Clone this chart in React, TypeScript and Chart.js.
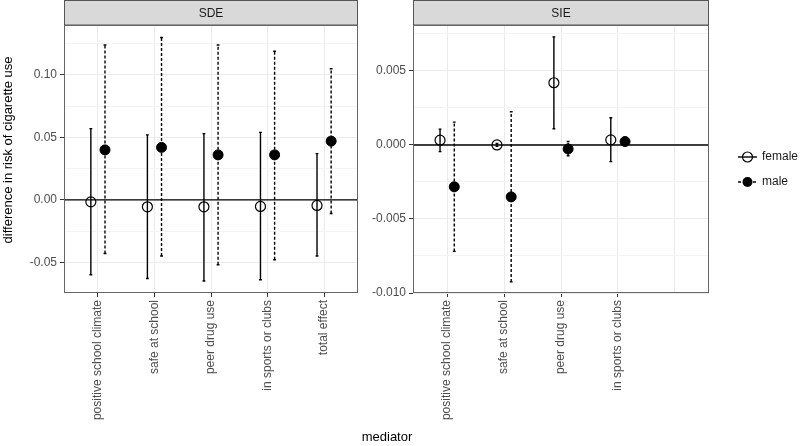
import React, { useEffect, useRef } from 'react';
import { Chart, registerables } from 'chart.js';

Chart.register(...registerables);

const FONT = "'Liberation Sans', Arial, Helvetica, sans-serif";

// ---------- data ----------
const sdeCategories = ['positive school climate', 'safe at school', 'peer drug use', 'in sports or clubs', 'total effect'];
const sieCategories = ['positive school climate', 'safe at school', 'peer drug use', 'in sports or clubs', ''];

const sdeFemale = [-0.0016, -0.0056, -0.0056, -0.0053, -0.0045];
const sdeFemaleLo = [-0.060, -0.063, -0.065, -0.064, -0.045];
const sdeFemaleHi = [0.057, 0.052, 0.053, 0.054, 0.037];
const sdeMale = [0.040, 0.042, 0.036, 0.036, 0.047];
const sdeMaleLo = [-0.043, -0.045, -0.052, -0.048, -0.011];
const sdeMaleHi = [0.124, 0.130, 0.124, 0.119, 0.105];

const sieFemale = [0.00032, 0.0, 0.0042, 0.00034];
const sieFemaleLo = [-0.00045, -0.0001, 0.00109, -0.00113];
const sieFemaleHi = [0.00107, 0.0001, 0.0073, 0.00184];
const sieMale = [-0.00283, -0.00351, -0.00027, 0.00023];
const sieMaleLo = [-0.00719, -0.00925, -0.00073, 0.00018];
const sieMaleHi = [0.00154, 0.00224, 0.00023, 0.0003];

const sdeYTicks = [-0.05, -0.025, 0, 0.025, 0.05, 0.075, 0.1, 0.125];
const sieYTicks = [-0.01, -0.0075, -0.005, -0.0025, 0, 0.0025, 0.005, 0.0075];

const DODGE = 0.125;
const CAP = 0.025;

function buildPoints(vals: number[], lo: number[], hi: number[], off: number) {
  return vals.map((v, i) => ({ x: i + off, y: v, lo: lo[i], hi: hi[i] }));
}

const isMultiple = (v: number, step: number) => Math.abs(v / step - Math.round(v / step)) < 1e-6;

// ---------- plugins ----------
const errorBarPlugin = {
  id: 'errorBars',
  beforeDatasetsDraw(chart: any) {
    const { ctx, chartArea: a, scales } = chart;
    const x = scales.x, y = scales.y;
    ctx.save();
    ctx.beginPath();
    ctx.rect(a.left, a.top, a.right - a.left, a.bottom - a.top);
    ctx.clip();
    // zero reference line
    const y0 = y.getPixelForValue(0);
    ctx.strokeStyle = '#000';
    ctx.lineWidth = 1.4;
    ctx.setLineDash([]);
    ctx.beginPath();
    ctx.moveTo(a.left, y0);
    ctx.lineTo(a.right, y0);
    ctx.stroke();
    chart.data.datasets.forEach((ds: any) => {
      ds.data.forEach((p: any) => {
        const px = x.getPixelForValue(p.x);
        const pl = x.getPixelForValue(p.x - CAP);
        const pr = x.getPixelForValue(p.x + CAP);
        const yl = y.getPixelForValue(p.lo);
        const yh = y.getPixelForValue(p.hi);
        ctx.lineWidth = 1.4;
        ctx.strokeStyle = '#000';
        ctx.setLineDash(ds.errDash || []);
        ctx.beginPath();
        ctx.moveTo(px, yl);
        ctx.lineTo(px, yh);
        ctx.stroke();
        ctx.setLineDash([]);
        ctx.beginPath();
        ctx.moveTo(pl, yl);
        ctx.lineTo(pr, yl);
        ctx.moveTo(pl, yh);
        ctx.lineTo(pr, yh);
        ctx.stroke();
      });
    });
    ctx.restore();
  },
};

const panelPlugin = {
  id: 'panel',
  afterDraw(chart: any, _args: any, opts: any) {
    const { ctx, chartArea: a } = chart;
    ctx.save();
    // strip
    ctx.fillStyle = '#D9D9D9';
    ctx.fillRect(a.left, 0.5, a.right - a.left, a.top - 0.5);
    ctx.strokeStyle = '#555';
    ctx.lineWidth = 1;
    ctx.strokeRect(a.left + 0.5, 0.5, a.right - a.left - 1, a.top - 0.5);
    ctx.fillStyle = '#1A1A1A';
    ctx.font = `12px ${FONT}`;
    ctx.textAlign = 'center';
    ctx.textBaseline = 'middle';
    ctx.fillText(opts.title, (a.left + a.right) / 2, a.top / 2 + 1);
    // panel border
    ctx.strokeStyle = '#666';
    ctx.strokeRect(a.left + 0.5, a.top + 0.5, a.right - a.left - 1, a.bottom - a.top - 1);

    if (opts.yTitle) {
      ctx.save();
      ctx.translate(8, 150);
      ctx.rotate(-Math.PI / 2);
      ctx.fillStyle = '#000';
      ctx.font = `13px ${FONT}`;
      ctx.textAlign = 'center';
      ctx.textBaseline = 'middle';
      ctx.fillText(opts.yTitle, 0, 0);
      ctx.restore();
    }
    if (opts.xTitle) {
      ctx.fillStyle = '#000';
      ctx.font = `13px ${FONT}`;
      ctx.textAlign = 'center';
      ctx.textBaseline = 'middle';
      ctx.fillText(opts.xTitle, 387, 437);
    }
    if (opts.legend) {
      const rows = [
        { label: 'female', y: 157, fill: false, dash: [] as number[] },
        { label: 'male', y: 182, fill: true, dash: [3, 2] },
      ];
      rows.forEach((r) => {
        ctx.strokeStyle = '#000';
        ctx.lineWidth = 1.4;
        ctx.setLineDash(r.dash);
        ctx.beginPath();
        ctx.moveTo(738, r.y);
        ctx.lineTo(757, r.y);
        ctx.stroke();
        ctx.setLineDash([]);
        ctx.beginPath();
        ctx.arc(747.5, r.y, 5, 0, Math.PI * 2);
        if (r.fill) {
          ctx.fillStyle = '#000';
          ctx.fill();
        } else {
          ctx.lineWidth = 1.2;
          ctx.stroke();
        }
        ctx.fillStyle = '#1A1A1A';
        ctx.font = `12px ${FONT}`;
        ctx.textAlign = 'left';
        ctx.textBaseline = 'middle';
        ctx.fillText(r.label, 762, r.y);
      });
    }
    ctx.restore();
  },
};

function makeConfig(p: {
  labels: string[];
  female: any[];
  male: any[];
  yMin: number;
  yMax: number;
  yTicks: number[];
  majorStep: number;
  decimals: number;
  padLeft: number;
  padRight: number;
  yWidth: number;
  panel: any;
}) {
  const nCat = p.labels.length;
  return {
    type: 'scatter',
    data: {
      datasets: [
        {
          label: 'female',
          data: p.female,
          pointRadius: 5,
          pointHoverRadius: 5,
          pointBackgroundColor: 'rgba(0,0,0,0)',
          pointBorderColor: '#000',
          pointBorderWidth: 1.2,
          errDash: [],
        },
        {
          label: 'male',
          data: p.male,
          pointRadius: 5,
          pointHoverRadius: 5,
          pointBackgroundColor: '#000',
          pointBorderColor: '#000',
          pointBorderWidth: 1,
          errDash: [3, 2],
        },
      ],
    },
    options: {
      animation: false,
      responsive: false,
      maintainAspectRatio: false,
      devicePixelRatio: 1,
      events: [],
      layout: { padding: { top: 25, left: p.padLeft, right: p.padRight, bottom: 0 } },
      plugins: { legend: { display: false }, tooltip: { enabled: false }, panel: p.panel },
      scales: {
        x: {
          type: 'linear',
          min: -0.6,
          max: nCat - 0.4,
          afterBuildTicks: (s: any) => {
            s.ticks = p.labels.map((_, i) => ({ value: i }));
          },
          afterFit: (s: any) => {
            s.height = 153;
          },
          ticks: {
            callback: (v: any) => p.labels[Math.round(v)] ?? '',
            minRotation: 90,
            maxRotation: 90,
            autoSkip: false,
            padding: 3,
            color: '#4D4D4D',
            font: { family: FONT, size: 12 },
          },
          grid: {
            color: '#EBEBEB',
            lineWidth: 1,
            tickLength: 4,
            tickColor: (c: any) => (c.tick && p.labels[Math.round(c.tick.value)] ? '#333' : 'rgba(0,0,0,0)'),
          },
          border: { display: false },
        },
        y: {
          type: 'linear',
          min: p.yMin,
          max: p.yMax,
          afterBuildTicks: (s: any) => {
            s.ticks = p.yTicks.map((v) => ({ value: v }));
          },
          afterFit: (s: any) => {
            s.width = p.yWidth;
          },
          ticks: {
            callback: (v: any) => (isMultiple(v, p.majorStep) ? Number(v).toFixed(p.decimals) : ''),
            padding: 3,
            color: '#4D4D4D',
            font: { family: FONT, size: 12 },
          },
          grid: {
            color: (c: any) => (c.tick && isMultiple(c.tick.value, p.majorStep) ? '#EBEBEB' : '#F4F4F4'),
            lineWidth: 1,
            tickLength: 4,
            tickColor: (c: any) => (c.tick && isMultiple(c.tick.value, p.majorStep) ? '#333' : 'rgba(0,0,0,0)'),
          },
          border: { display: false },
        },
      },
    },
    plugins: [errorBarPlugin, panelPlugin],
  } as any;
}

export default function App() {
  const refA = useRef<HTMLCanvasElement>(null);
  const refB = useRef<HTMLCanvasElement>(null);

  useEffect(() => {
    const chartA = new Chart(
      refA.current as HTMLCanvasElement,
      makeConfig({
        labels: sdeCategories,
        female: buildPoints(sdeFemale, sdeFemaleLo, sdeFemaleHi, -DODGE),
        male: buildPoints(sdeMale, sdeMaleLo, sdeMaleHi, DODGE),
        yMin: -0.0746,
        yMax: 0.14,
        yTicks: sdeYTicks,
        majorStep: 0.05,
        decimals: 2,
        padLeft: 0,
        padRight: 442,
        yWidth: 64,
        panel: { title: 'SDE', yTitle: 'difference in risk of cigarette use', xTitle: 'mediator' },
      })
    );
    const chartB = new Chart(
      refB.current as HTMLCanvasElement,
      makeConfig({
        labels: sieCategories,
        female: buildPoints(sieFemale, sieFemaleLo, sieFemaleHi, -DODGE),
        male: buildPoints(sieMale, sieMaleLo, sieMaleHi, DODGE),
        yMin: -0.01,
        yMax: 0.0081,
        yTicks: sieYTicks,
        majorStep: 0.005,
        decimals: 3,
        padLeft: 353,
        padRight: 91,
        yWidth: 60,
        panel: { title: 'SIE', legend: true },
      })
    );
    return () => {
      chartA.destroy();
      chartB.destroy();
    };
  }, []);

  const canvasStyle: React.CSSProperties = { position: 'absolute', left: 0, top: 0, width: 800, height: 446 };
  return (
    <div style={{ position: 'fixed', left: 0, top: 0, width: 800, height: 446, background: '#fff' }}>
      <canvas ref={refA} width={800} height={446} style={canvasStyle} />
      <canvas ref={refB} width={800} height={446} style={canvasStyle} />
    </div>
  );
}
